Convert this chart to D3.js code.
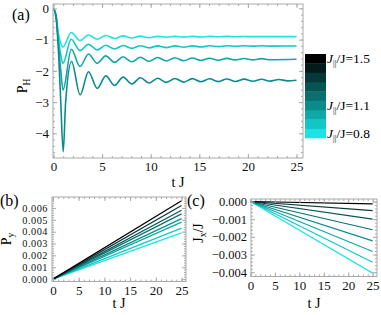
<!DOCTYPE html>
<html>
<head>
<meta charset="utf-8">
<script src="https://cdn.jsdelivr.net/npm/d3@7"></script>
<style>
  body { margin: 0; background: #fff; }
</style>
</head>
<body>
<div id="chart"></div>
<script>
// J||/J values and the colours used for them (cyan -> black)
const couplings = [0.8, 0.9, 1.0, 1.1, 1.2, 1.3, 1.4, 1.5];
const lineColors = ["#1ee3e3", "#12c6c6", "#0ea8a8", "#0b8c8c", "#097070", "#075454", "#053838", "#000000"];
const barColors = ["#1ee3e3", "#12c6c6", "#0ea8a8", "#0b8c8c", "#097070", "#075454", "#053838", "#021c1c", "#000000"];
const barLabels = [{ text: "0.8", at: 0.8 }, { text: "1.1", at: 1.1 }, { text: "1.5", at: 1.6 }];

// panel (a): P_H(t) (turning points), J||/J = 0.8 .. 1.1
const pH08 = [[0,0],[0.25,-0.2],[0.5,-0.8],[0.75,-1.12],[0.97,-1.24],[1.83,-0.77],[2.72,-1.03],[3.6,-0.85],[4.5,-0.99],[5.38,-0.87],[6.28,-0.965],[7.16,-0.88],[8.06,-0.95],[8.94,-0.89],[9.84,-0.94],[10.72,-0.895],[11.62,-0.925],[12.5,-0.895],[13.4,-0.92],[14.28,-0.895],[15.18,-0.915],[16.06,-0.897],[16.96,-0.91],[17.84,-0.898],[18.74,-0.908],[19.62,-0.9],[20.52,-0.906],[25,-0.903]];
const pH09 = [[0,0],[0.25,-0.21],[0.5,-0.95],[0.75,-1.5],[0.97,-1.76],[1.83,-0.99],[2.72,-1.35],[3.6,-1.15],[4.5,-1.33],[5.38,-1.18],[6.28,-1.3],[7.16,-1.19],[8.06,-1.28],[8.94,-1.195],[9.84,-1.265],[10.72,-1.2],[11.62,-1.255],[12.5,-1.2],[13.4,-1.245],[14.28,-1.2],[15.18,-1.235],[16.06,-1.198],[16.96,-1.225],[17.84,-1.195],[18.74,-1.215],[19.62,-1.197],[20.52,-1.21],[21.4,-1.198],[22.3,-1.207],[25,-1.203]];
const pH10 = [[0,0],[0.25,-0.22],[0.5,-1.1],[0.75,-2.0],[0.98,-2.61],[1.84,-1.31],[2.73,-1.86],[3.6,-1.46],[4.5,-1.76],[5.38,-1.52],[6.28,-1.73],[7.16,-1.55],[8.06,-1.71],[8.94,-1.565],[9.84,-1.695],[10.72,-1.575],[11.62,-1.685],[12.5,-1.58],[13.4,-1.675],[14.28,-1.59],[15.18,-1.667],[16.06,-1.595],[16.96,-1.66],[17.84,-1.6],[18.74,-1.655],[19.62,-1.605],[20.52,-1.65],[21.4,-1.61],[22.3,-1.645],[25,-1.63]];
const pH11 = [[0,0],[0.25,-0.24],[0.5,-1.3],[0.75,-3.0],[1.0,-4.59],[1.25,-3.0],[1.86,-1.7],[2.74,-2.77],[3.6,-2.03],[4.5,-2.56],[5.38,-2.16],[6.28,-2.47],[7.16,-2.2],[8.06,-2.42],[8.94,-2.22],[9.84,-2.39],[10.72,-2.235],[11.62,-2.37],[12.5,-2.245],[13.4,-2.36],[14.28,-2.25],[15.18,-2.35],[16.06,-2.255],[16.96,-2.345],[17.84,-2.26],[18.74,-2.34],[19.62,-2.265],[20.52,-2.335],[21.4,-2.27],[22.3,-2.33],[23.18,-2.275],[24.08,-2.32],[25,-2.3]];
const pHSeries = [pH08, pH09, pH10, pH11];

// panels (b) and (c): straight growth, value at t J = 25 for each J||/J
const tEnd = 25;
const pyEnd = [0.0039, 0.0043, 0.0048, 0.0051, 0.0055, 0.0058, 0.0062, 0.0066];
const jxEnd = [-0.00405, -0.00343, -0.00283, -0.00223, -0.0016, -0.00100, -0.00052, -0.00014];

const tTicks = [0, 5, 10, 15, 20, 25];
const pHTicks = [0, -1, -2, -3, -4];
const pyTicks = [0, 0.001, 0.002, 0.003, 0.004, 0.005, 0.006];
const jxTicks = [0, -0.001, -0.002, -0.003, -0.004];

const width = 381, height = 315;
const svg = d3.select("#chart").append("svg")
  .attr("width", width)
  .attr("height", height);

const frameColor = "#aaa";

function framedAxes(box, x, y, xMajor, xMinor, yMajor, yMinor, yFmt, yFs) {
  const g = svg.append("g");
  const axes = [
    [d3.axisBottom, box.b, x, xMajor, xMinor, true],
    [d3.axisTop, box.t, x, xMajor, xMinor, false],
    [d3.axisLeft, box.l, y, yMajor, yMinor, true],
    [d3.axisRight, box.r, y, yMajor, yMinor, false]
  ];
  axes.forEach(([fn, pos, sc, major, minor, labels]) => {
    const horiz = fn === d3.axisBottom || fn === d3.axisTop;
    const tr = horiz ? `translate(0,${pos})` : `translate(${pos},0)`;
    g.append("g").attr("transform", tr)
      .call(fn(sc).tickValues(minor).tickSize(-2).tickFormat(""))
      .call(a => a.select(".domain").remove())
      .call(a => a.selectAll("text").remove())
      .call(a => a.selectAll("line").attr("stroke", frameColor));
    const ax = g.append("g").attr("transform", tr)
      .call(fn(sc).tickValues(major).tickSize(-4).tickPadding(4)
        .tickFormat(labels ? (horiz ? d3.format("d") : yFmt) : ""));
    ax.attr("font-size", horiz ? 13 : yFs);
    ax.select(".domain").remove();
    ax.selectAll("line").attr("stroke", frameColor);
    if (!labels) ax.selectAll("text").remove();
    ax.selectAll("text").attr("fill", "#111");
  });
  g.append("rect")
    .attr("x", box.l).attr("y", box.t)
    .attr("width", box.r - box.l).attr("height", box.b - box.t)
    .attr("fill", "none").attr("stroke", frameColor).attr("stroke-width", 1);
  return g;
}

function range(a, b, s) { return d3.range(a, b + s / 2, s); }

// ---------- panel (a)
const boxA = { l: 53, r: 303, t: 4, b: 158 };
const xA = d3.scaleLinear().domain([-0.05, 25.67]).range([boxA.l, boxA.r]);
const yA = d3.scaleLinear().domain([0.14, -4.79]).range([boxA.t, boxA.b]);

svg.append("clipPath").attr("id", "clipA").append("rect")
  .attr("x", boxA.l).attr("y", boxA.t).attr("width", boxA.r - boxA.l).attr("height", boxA.b - boxA.t);

const lineA = d3.line().x(d => xA(d[0])).y(d => yA(d[1])).curve(d3.curveMonotoneX);
svg.append("g").attr("clip-path", "url(#clipA)")
  .selectAll("path").data(pHSeries).join("path")
  .attr("d", lineA)
  .attr("fill", "none")
  .attr("stroke", (d, i) => lineColors[i])
  .attr("stroke-width", 1.6);

framedAxes(boxA, xA, yA, tTicks, range(0, 25, 1), pHTicks, range(-4.6, 0, 0.2), d3.format("d"), 13);

// ---------- panel (b)
const boxB = { l: 52, r: 186, t: 197, b: 281.5 };
const xB = d3.scaleLinear().domain([-0.19, 25.87]).range([boxB.l, boxB.r]);
const yB = d3.scaleLinear().domain([0.00692, -0.0002]).range([boxB.t, boxB.b]);
const lineB = d3.line().x(d => xB(d[0])).y(d => yB(d[1]));
svg.append("g").selectAll("path").data(pyEnd).join("path")
  .attr("d", v => lineB([[0, 0], [tEnd, v]]))
  .attr("fill", "none")
  .attr("stroke", (d, i) => lineColors[i])
  .attr("stroke-width", 1.2);
const axB = framedAxes(boxB, xB, yB, tTicks, range(0, 25, 1), pyTicks, range(0, 0.0069, 0.0002), d3.format(".3f"), 10.3);
axB.selectAll("text").filter(function () { return this.textContent.includes("."); })
  .attr("letter-spacing", 0.5);

// ---------- panel (c)
const boxC = { l: 251, r: 377, t: 199, b: 276.5 };
const xC = d3.scaleLinear().domain([0.1, 25.9]).range([boxC.l, boxC.r]);
const yC = d3.scaleLinear().domain([0.00014, -0.00424]).range([boxC.t, boxC.b]);
const lineC = d3.line().x(d => xC(d[0])).y(d => yC(d[1]));
svg.append("g").selectAll("path").data(jxEnd).join("path")
  .attr("d", v => lineC([[0, 0], [tEnd, v]]))
  .attr("fill", "none")
  .attr("stroke", (d, i) => lineColors[i])
  .attr("stroke-width", 1.2);
framedAxes(boxC, xC, yC, tTicks, range(0, 25, 1), jxTicks, range(-0.0042, 0, 0.0002), d3.format(".3f"), 12.5);

// ---------- colour bar
const bar = { l: 305, r: 326, t: 54, b: 138 };
const yBar = d3.scaleLinear().domain([0.75, 1.65]).range([bar.b, bar.t]);
svg.append("g").selectAll("rect").data(barColors).join("rect")
  .attr("x", bar.l)
  .attr("y", (d, i) => yBar(0.85 + i * 0.1))
  .attr("width", bar.r - bar.l)
  .attr("height", yBar(0.75) - yBar(0.85) + 0.3)
  .attr("fill", d => d);

const lab = svg.append("g").selectAll("text").data(barLabels).join("text")
  .attr("x", bar.r + 1)
  .attr("y", d => yBar(d.at) + 4.5)
  .attr("font-size", 13.5);
lab.append("tspan").attr("font-style", "italic").text("J");
lab.append("tspan").attr("font-size", 8.5).attr("dy", 3).text("||");
lab.append("tspan").attr("dy", -3).text(d => "/J=" + d.text);

// ---------- titles and axis names
function addText(x, y, parts, rot, size) {
  const t = svg.append("text")
    .attr("transform", `translate(${x},${y})` + (rot ? " rotate(-90)" : ""))
    .attr("text-anchor", "middle")
    .attr("font-size", size || 14);
  parts.forEach(p => {
    const s = t.append("tspan").text(p.s);
    if (p.sub) s.attr("font-size", 9.5).attr("dy", 3);
    if (p.up) s.attr("dy", -3);
  });
  return t;
}
svg.append("text").attr("x", 12).attr("y", 20).attr("font-size", 16).text("(a)");
svg.append("text").attr("x", 0).attr("y", 206).attr("font-size", 16).text("(b)");
svg.append("text").attr("x", 187).attr("y", 206).attr("font-size", 16).text("(c)");

addText(178, 187, [{ s: "t J" }]);
addText(119, 308, [{ s: "t J" }]);
addText(314, 308, [{ s: "t J" }]);
addText(27, 86, [{ s: "P" }, { s: "H", sub: true }], true);
addText(11, 239, [{ s: "P" }, { s: "y", sub: true }], true);
addText(203, 233, [{ s: "J" }, { s: "x", sub: true }, { s: "/J", up: true }], true);

// serif everywhere (inline style beats the axis' own font attribute)
svg.selectAll("text").style("font-family", '"Liberation Serif"');
</script>
</body>
</html>
